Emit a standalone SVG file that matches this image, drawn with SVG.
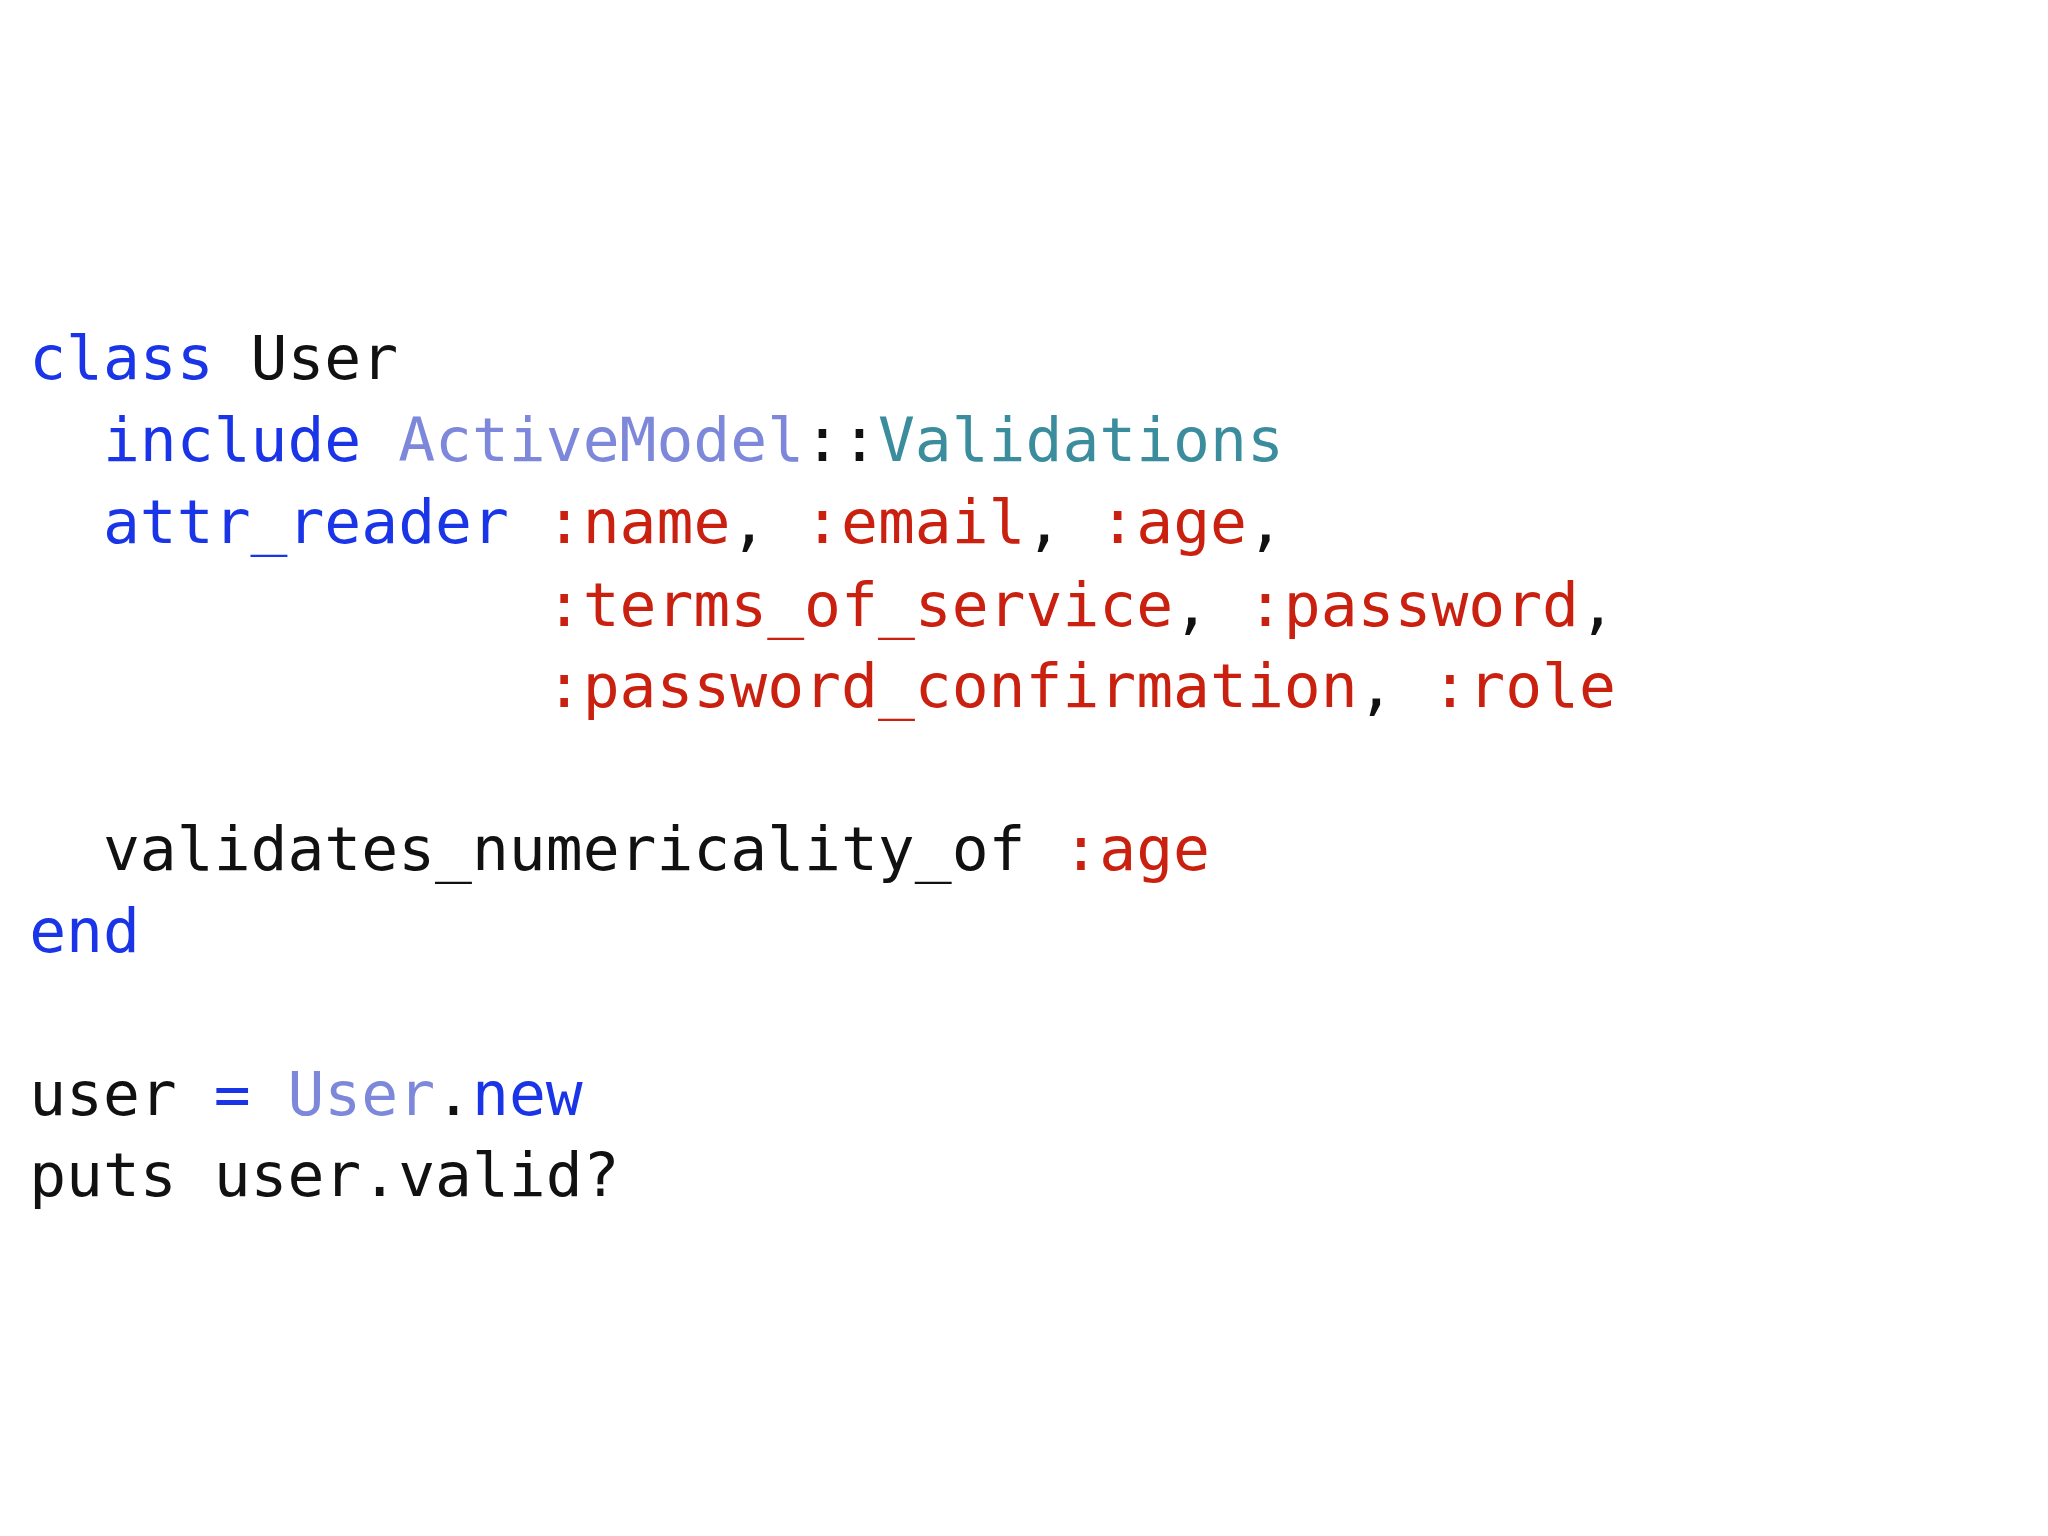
<svg xmlns="http://www.w3.org/2000/svg" width="2048" height="1536" viewBox="0 0 2048 1536">
<style>
text{font-family:"DejaVu Sans Mono","Liberation Mono",monospace;font-size:61px;fill:#111;white-space:pre}
.k{fill:#1a35e8}.c{fill:#7d88db}.t{fill:#3b8d9e}.s{fill:#c9200f}
</style>
<rect width="2048" height="1536" fill="#fff"/>
<g id="code" transform="scale(1.005,1)">
<text x="29" y="379"><tspan class="k">class</tspan> User</text>
<text x="29" y="461">  <tspan class="k">include</tspan> <tspan class="c">ActiveModel</tspan>::<tspan class="t">Validations</tspan></text>
<text x="29" y="543">  <tspan class="k">attr_reader</tspan> <tspan class="s">:name</tspan>, <tspan class="s">:email</tspan>, <tspan class="s">:age</tspan>,</text>
<text x="29" y="626">              <tspan class="s">:terms_of_service</tspan>, <tspan class="s">:password</tspan>,</text>
<text x="29" y="707">              <tspan class="s">:password_confirmation</tspan>, <tspan class="s">:role</tspan></text>
<text x="29" y="870">  validates_numericality_of <tspan class="s">:age</tspan></text>
<text x="29" y="952"><tspan class="k">end</tspan></text>
<text x="29" y="1115">user <tspan class="k">=</tspan> <tspan class="c">User</tspan>.<tspan class="k">new</tspan></text>
<text x="29" y="1196">puts user.valid?</text>
</g>
</svg>
